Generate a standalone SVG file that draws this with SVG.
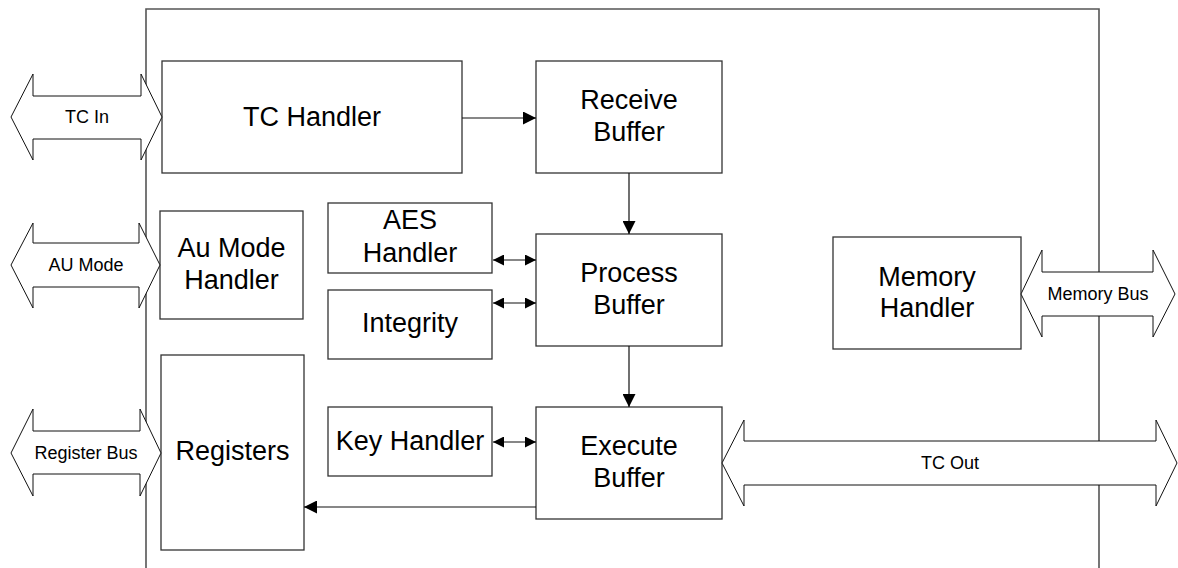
<svg xmlns="http://www.w3.org/2000/svg" width="1178" height="568" viewBox="0 0 1178 568">
  <style>
    .box { fill: #ffffff; stroke: #333333; stroke-width: 1.3; }
    .bus { fill: #ffffff; stroke: #111111; stroke-width: 1; stroke-linejoin: miter; }
    .frame { fill: none; stroke: #555555; stroke-width: 1.6; }
    .link { fill: none; stroke: #111111; stroke-width: 1.2; }
    .big { font-family: "Liberation Sans", Arial, sans-serif; font-size: 27px; fill: #000000; text-anchor: middle; }
    .small { font-family: "Liberation Sans", Arial, sans-serif; font-size: 18px; fill: #000000; text-anchor: middle; }
  </style>
  <defs>
    <marker id="head" markerUnits="userSpaceOnUse" markerWidth="13" markerHeight="13" refX="13" refY="6.5" orient="auto">
      <path d="M0,0 L13,6.5 L0,13 Z" fill="#000000"/>
    </marker>
    <marker id="headS" markerUnits="userSpaceOnUse" markerWidth="11" markerHeight="11" refX="11" refY="5.5" orient="auto-start-reverse">
      <path d="M0,0 L11,5.5 L0,11 Z" fill="#000000"/>
    </marker>
  </defs>

  <rect width="1178" height="568" fill="#ffffff"/>

  <!-- chip boundary, open at the bottom -->
  <path class="frame" d="M146,575 V9 H1099 V575"/>

  <g id="tc-handler">
    <rect class="box" x="162" y="61" width="300" height="112"/>
    <text class="big" x="312" y="126">TC Handler</text>
  </g>
  <g id="receive-buffer">
    <rect class="box" x="536" y="61" width="186" height="112"/>
    <text class="big" x="629" y="109">Receive</text>
    <text class="big" x="629" y="141">Buffer</text>
  </g>
  <g id="au-mode-handler">
    <rect class="box" x="160" y="211" width="143" height="108"/>
    <text class="big" x="231.5" y="257">Au Mode</text>
    <text class="big" x="231.5" y="289">Handler</text>
  </g>
  <g id="aes-handler">
    <rect class="box" x="328" y="203" width="164" height="70"/>
    <text class="big" x="410" y="229">AES</text>
    <text class="big" x="410" y="262">Handler</text>
  </g>
  <g id="integrity">
    <rect class="box" x="328" y="290" width="164" height="69"/>
    <text class="big" x="410" y="332">Integrity</text>
  </g>
  <g id="process-buffer">
    <rect class="box" x="536" y="234" width="186" height="112"/>
    <text class="big" x="629" y="282">Process</text>
    <text class="big" x="629" y="314">Buffer</text>
  </g>
  <g id="memory-handler">
    <rect class="box" x="833" y="237" width="188" height="112"/>
    <text class="big" x="927" y="286">Memory</text>
    <text class="big" x="927" y="317">Handler</text>
  </g>
  <g id="registers">
    <rect class="box" x="161" y="355" width="143" height="195"/>
    <text class="big" x="232.5" y="460">Registers</text>
  </g>
  <g id="key-handler">
    <rect class="box" x="328" y="407" width="164" height="69"/>
    <text class="big" x="410" y="450">Key Handler</text>
  </g>
  <g id="execute-buffer">
    <rect class="box" x="536" y="407" width="186" height="112"/>
    <text class="big" x="629" y="455">Execute</text>
    <text class="big" x="629" y="487">Buffer</text>
  </g>

  <!-- external buses -->
  <g id="tc-in-bus">
    <polygon class="bus" points="11,117 33,74 33,96 141,96 141,74 162,117 141,160 141,139 33,139 33,160"/>
    <text class="small" x="87" y="123">TC In</text>
  </g>
  <g id="au-mode-bus">
    <polygon class="bus" points="11,265 33,223 33,243 139,243 139,223 160,265 139,308 139,287 33,287 33,308"/>
    <text class="small" x="86" y="271">AU Mode</text>
  </g>
  <g id="register-bus">
    <polygon class="bus" points="11,453 33,409 33,431 140,431 140,409 161,453 140,496 140,474 33,474 33,496"/>
    <text class="small" x="86" y="459">Register Bus</text>
  </g>
  <g id="memory-bus">
    <polygon class="bus" points="1021,294 1042,250 1042,272 1153,272 1153,250 1175,294 1153,337 1153,316 1042,316 1042,337"/>
    <text class="small" x="1098" y="300">Memory Bus</text>
  </g>
  <g id="tc-out-bus">
    <polygon class="bus" points="722,463 744,420 744,441 1156,441 1156,420 1177,463 1156,506 1156,485 744,485 744,506"/>
    <text class="small" x="950" y="469">TC Out</text>
  </g>

  <!-- internal connectors -->
  <g id="connectors">
    <line class="link" x1="462" y1="118" x2="536" y2="118" marker-end="url(#head)"/>
    <line class="link" x1="629" y1="173" x2="629" y2="234" marker-end="url(#head)"/>
    <line class="link" x1="629" y1="346" x2="629" y2="407" marker-end="url(#head)"/>
    <line class="link" x1="493" y1="260" x2="536" y2="260" marker-start="url(#headS)" marker-end="url(#headS)"/>
    <line class="link" x1="493" y1="303" x2="536" y2="303" marker-start="url(#headS)" marker-end="url(#headS)"/>
    <line class="link" x1="493" y1="442" x2="536" y2="442" marker-start="url(#headS)" marker-end="url(#headS)"/>
    <line class="link" x1="536" y1="507" x2="304" y2="507" marker-end="url(#head)"/>
  </g>
</svg>
